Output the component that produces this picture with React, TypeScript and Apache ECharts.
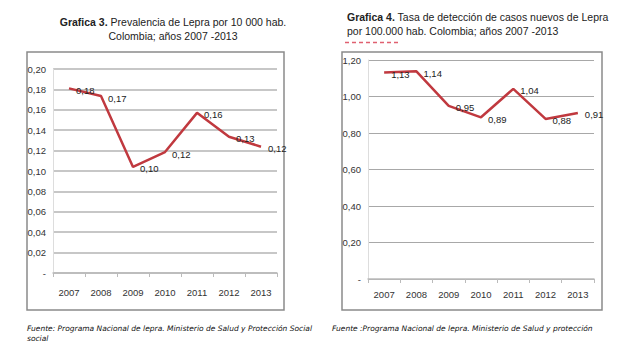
import React, { useEffect, useRef } from "react";
import * as echarts from "echarts";

const years = ["2007", "2008", "2009", "2010", "2011", "2012", "2013"];
const prevalence = [0.181, 0.1735, 0.104, 0.1186, 0.157, 0.1336, 0.1238];
const detection = [1.131, 1.138, 0.949, 0.886, 1.042, 0.877, 0.91];
const leftTicks = { min: 0, max: 0.2, interval: 0.02 };
const rightTicks = { min: 0, max: 1.2, interval: 0.2 };

const fmt = (v: number) => (v === 0 ? "-" : v.toFixed(2).replace(".", ","));
const narrow = "'Liberation Sans Narrow', 'Liberation Sans', sans-serif";
const red = "#c0393f";

export default function App() {
  const ref = useRef<HTMLDivElement>(null);
  useEffect(() => {
    const chart = echarts.init(ref.current!, null, { renderer: "svg" });
    const axisLabel = { color: "#333", fontSize: 9.5, fontFamily: narrow };
    const lineSeries = (data: number[], idx: number) => ({
      type: "line",
      xAxisIndex: idx,
      yAxisIndex: idx,
      data,
      symbol: "circle",
      symbolSize: 2,
      showSymbol: true,
      itemStyle: { color: "rgba(0,0,0,0)", borderWidth: 0 },
      lineStyle: { color: red, width: 2.5 },
      label: {
        show: true,
        position: "right",
        distance: 6,
        offset: [0, 2],
        formatter: (p: any) => fmt(p.value),
        color: "#222",
        opacity: 1,
        fontSize: 9.5,
        fontFamily: narrow,
      },
    });
    chart.setOption({
      animation: false,
      title: [
        {
          text: "{b|Grafica 3.} Prevalencia de Lepra por 10 000 hab.\nColombia; años 2007 -2013",
          left: 168,
          top: 10,
          textAlign: "center",
          textStyle: {
            fontSize: 10.5,
            fontWeight: "normal",
            color: "#222",
            fontFamily: "'Liberation Sans', Arial, sans-serif",
            lineHeight: 14,
            align: "center",
            rich: { b: { fontWeight: "bold", fontSize: 10.5, fontFamily: "'Liberation Sans', Arial, sans-serif", color: "#222" } },
          },
        },
        {
          text: "{b|Grafica 4.} Tasa de detección de casos nuevos de Lepra\npor 100.000 hab. Colombia; años 2007 -2013",
          left: 342,
          top: 5,
          textStyle: {
            fontSize: 10.5,
            fontWeight: "normal",
            color: "#222",
            fontFamily: "'Liberation Sans', Arial, sans-serif",
            lineHeight: 14,
            rich: { b: { fontWeight: "bold", fontSize: 10.5, fontFamily: "'Liberation Sans', Arial, sans-serif", color: "#222" } },
          },
        },
      ],
      graphic: [
        { type: "rect", shape: { x: 27, y: 52, width: 257, height: 258 }, style: { fill: "none", stroke: "#8a8a8a", lineWidth: 1.5 }, z: -1 },
        { type: "rect", shape: { x: 342, y: 52, width: 260, height: 258 }, style: { fill: "none", stroke: "#8a8a8a", lineWidth: 1.5 }, z: -1 },
        { type: "line", shape: { x1: 345, y1: 42.5, x2: 400, y2: 42.5 }, style: { stroke: "#e06070", lineWidth: 1.5, lineDash: [4, 3] } },
        {
          type: "text",
          left: 27,
          top: 323,
          style: {
            text: "Fuente: Programa Nacional de lepra. Ministerio de Salud y Protección Social\nsocial",
            fontSize: 7.5,
            fontStyle: "italic",
            lineHeight: 10,
            fill: "#111",
            fontFamily: "'DejaVu Sans', sans-serif",
          },
        },
        {
          type: "text",
          left: 332,
          top: 324,
          style: {
            text: "Fuente :Programa Nacional de lepra. Ministerio de Salud y protección",
            fontSize: 7.5,
            fontStyle: "italic",
            fill: "#111",
            fontFamily: "'DejaVu Sans', sans-serif",
          },
        },
      ],
      grid: [
        { left: 53, right: 352, top: 69, bottom: 81 },
        { left: 368, right: 35, top: 60, bottom: 75 },
      ],
      xAxis: [0, 1].map((i) => ({
        type: "category",
        gridIndex: i,
        data: years,
        axisLine: { lineStyle: { color: "#bbb", width: 1.5 } },
        axisTick: { show: true, lineStyle: { color: "#bbb" }, length: 4 },
        axisLabel: { ...axisLabel, margin: i === 0 ? 14 : 10 },
      })),
      yAxis: [
        {
          type: "value",
          gridIndex: 0,
          ...leftTicks,
          axisLine: { show: true, lineStyle: { color: "#ddd" } },
          axisTick: { show: false },
          splitLine: { lineStyle: { color: "#b5b5b5", width: 1.5 } },
          axisLabel: { ...axisLabel, margin: 7, formatter: fmt },
        },
        {
          type: "value",
          gridIndex: 1,
          ...rightTicks,
          axisLine: { show: true, lineStyle: { color: "#ddd" } },
          axisTick: { show: false },
          splitLine: { lineStyle: { color: "#a8a8a8", width: 1 } },
          axisLabel: { ...axisLabel, margin: 7, formatter: fmt },
        },
      ],
      series: [lineSeries(prevalence, 0), lineSeries(detection, 1)],
    });
    return () => chart.dispose();
  }, []);
  return <div ref={ref} style={{ position: "absolute", left: 0, top: 0, width: 629, height: 354, background: "#fff" }} />;
}
